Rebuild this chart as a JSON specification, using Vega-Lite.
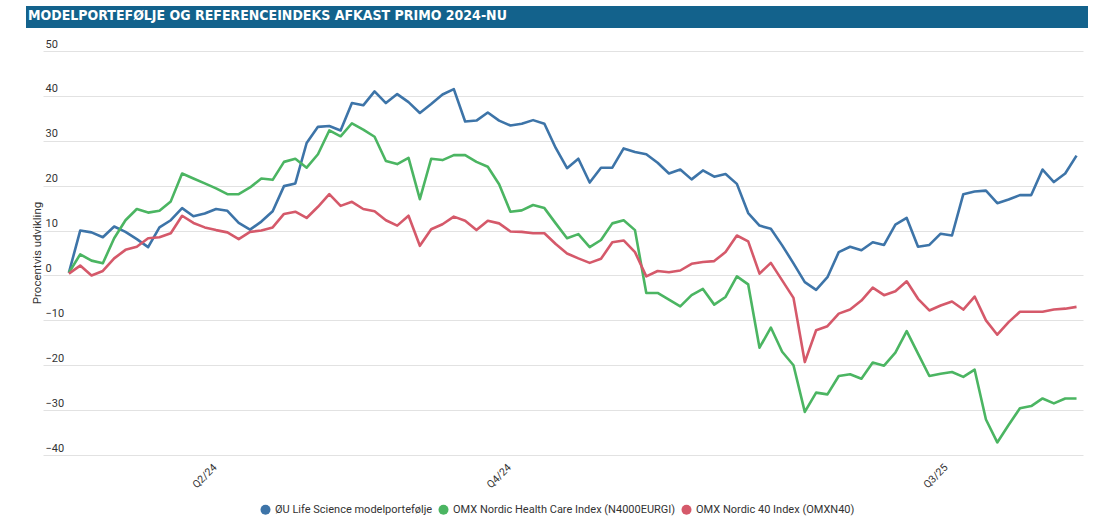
{
  "$schema": "https://vega.github.io/schema/vega-lite/v6.json",
  "background": "white",
  "padding": {"left": 26, "top": 6, "right": 10, "bottom": 4},
  "spacing": 10,
  "config": {
    "view": {"stroke": null},
    "font": "Roboto",
    "axis": {"labelFont": "Roboto", "titleFont": "Roboto"},
    "legend": {"labelFont": "Roboto", "layout": {"bottom": {"anchor": "middle"}}}
  },
  "vconcat": [
    {
      "width": 1062,
      "height": 22,
      "view": {"fill": "#13628c", "stroke": null},
      "title": {
        "text": "MODELPORTEFØLJE OG REFERENCEINDEKS AFKAST PRIMO 2024-NU",
        "anchor": "start",
        "frame": "group",
        "orient": "top",
        "offset": -17,
        "dx": 2,
        "color": "white",
        "font": "Liberation Sans Narrow, DejaVu Sans Condensed, Roboto, sans-serif",
        "fontSize": 14,
        "fontWeight": "bold"
      },
      "data": {"values": [{"t": ""}]},
      "mark": {"type": "text", "opacity": 0},
      "encoding": {"text": {"field": "t"}}
    },
    {
      "spacing": 0,
      "hconcat": [
        {
          "width": 17,
          "height": 404,
          "data": {"values": [{"label": "Procentvis udvikling"}]},
          "mark": {"type": "text", "angle": 270, "font": "Roboto", "fontSize": 11.5, "color": "#333333", "baseline": "middle", "align": "center", "dy": 3},
          "encoding": {"text": {"field": "label"}}
        },
        {
          "width": 1040,
          "height": 404,
          "data": {"values": [
            {"date": "2024-01-02", "p": 0.6, "h": 0.6, "n": 0.4},
            {"date": "2024-01-09", "p": 10.0, "h": 4.7, "n": 2.2},
            {"date": "2024-01-16", "p": 9.6, "h": 3.3, "n": 0.0},
            {"date": "2024-01-23", "p": 8.5, "h": 2.7, "n": 1.0},
            {"date": "2024-01-30", "p": 10.9, "h": 8.3, "n": 3.8},
            {"date": "2024-02-06", "p": 9.7, "h": 12.3, "n": 5.7},
            {"date": "2024-02-13", "p": 8.1, "h": 14.8, "n": 6.4},
            {"date": "2024-02-20", "p": 6.3, "h": 14.0, "n": 8.3},
            {"date": "2024-02-27", "p": 10.7, "h": 14.4, "n": 8.5},
            {"date": "2024-03-05", "p": 12.3, "h": 16.5, "n": 9.4},
            {"date": "2024-03-12", "p": 15.0, "h": 22.7, "n": 13.3},
            {"date": "2024-03-19", "p": 13.2, "h": 21.6, "n": 11.7},
            {"date": "2024-03-26", "p": 13.8, "h": 20.5, "n": 10.7},
            {"date": "2024-04-02", "p": 14.8, "h": 19.4, "n": 10.1},
            {"date": "2024-04-09", "p": 14.4, "h": 18.1, "n": 9.6},
            {"date": "2024-04-16", "p": 11.7, "h": 18.1, "n": 8.1},
            {"date": "2024-04-23", "p": 10.2, "h": 19.6, "n": 9.7},
            {"date": "2024-04-30", "p": 12.0, "h": 21.6, "n": 10.0},
            {"date": "2024-05-07", "p": 14.3, "h": 21.3, "n": 10.7},
            {"date": "2024-05-14", "p": 19.9, "h": 25.3, "n": 13.7},
            {"date": "2024-05-21", "p": 20.5, "h": 26.0, "n": 14.2},
            {"date": "2024-05-28", "p": 29.5, "h": 24.0, "n": 12.8},
            {"date": "2024-06-04", "p": 33.1, "h": 27.0, "n": 15.3},
            {"date": "2024-06-11", "p": 33.3, "h": 32.3, "n": 18.1},
            {"date": "2024-06-18", "p": 32.3, "h": 31.0, "n": 15.5},
            {"date": "2024-06-25", "p": 38.4, "h": 33.9, "n": 16.4},
            {"date": "2024-07-02", "p": 37.9, "h": 32.5, "n": 14.8},
            {"date": "2024-07-09", "p": 41.0, "h": 30.9, "n": 14.3},
            {"date": "2024-07-16", "p": 38.4, "h": 25.5, "n": 12.3},
            {"date": "2024-07-23", "p": 40.4, "h": 24.8, "n": 11.1},
            {"date": "2024-07-30", "p": 38.6, "h": 26.2, "n": 13.3},
            {"date": "2024-08-06", "p": 36.2, "h": 17.0, "n": 6.6},
            {"date": "2024-08-13", "p": 38.2, "h": 26.0, "n": 10.3},
            {"date": "2024-08-20", "p": 40.3, "h": 25.7, "n": 11.4},
            {"date": "2024-08-27", "p": 41.5, "h": 26.8, "n": 13.1},
            {"date": "2024-09-03", "p": 34.3, "h": 26.8, "n": 12.2},
            {"date": "2024-09-10", "p": 34.5, "h": 25.3, "n": 10.1},
            {"date": "2024-09-17", "p": 36.3, "h": 24.2, "n": 12.2},
            {"date": "2024-09-24", "p": 34.5, "h": 20.3, "n": 11.6},
            {"date": "2024-10-01", "p": 33.4, "h": 14.2, "n": 9.8},
            {"date": "2024-10-08", "p": 33.8, "h": 14.5, "n": 9.7},
            {"date": "2024-10-15", "p": 34.6, "h": 15.7, "n": 9.4},
            {"date": "2024-10-22", "p": 33.8, "h": 15.0, "n": 9.4},
            {"date": "2024-10-29", "p": 28.4, "h": 11.6, "n": 7.0},
            {"date": "2024-11-05", "p": 23.9, "h": 8.3, "n": 4.9},
            {"date": "2024-11-12", "p": 26.0, "h": 9.2, "n": 3.8},
            {"date": "2024-11-19", "p": 20.7, "h": 6.3, "n": 2.8},
            {"date": "2024-11-26", "p": 24.0, "h": 7.9, "n": 3.7},
            {"date": "2024-12-03", "p": 24.0, "h": 11.6, "n": 7.4},
            {"date": "2024-12-10", "p": 28.3, "h": 12.3, "n": 7.8},
            {"date": "2024-12-17", "p": 27.5, "h": 10.1, "n": 5.2},
            {"date": "2024-12-24", "p": 27.0, "h": -3.9, "n": -0.2},
            {"date": "2024-12-31", "p": 25.1, "h": -3.9, "n": 1.0},
            {"date": "2025-01-07", "p": 22.7, "h": -5.4, "n": 0.7},
            {"date": "2025-01-14", "p": 23.6, "h": -6.9, "n": 1.1},
            {"date": "2025-01-21", "p": 21.4, "h": -4.4, "n": 2.6},
            {"date": "2025-01-28", "p": 23.4, "h": -3.0, "n": 3.0},
            {"date": "2025-02-04", "p": 22.0, "h": -6.5, "n": 3.2},
            {"date": "2025-02-11", "p": 22.6, "h": -4.8, "n": 5.2},
            {"date": "2025-02-18", "p": 20.4, "h": -0.2, "n": 8.9},
            {"date": "2025-02-25", "p": 13.9, "h": -2.0, "n": 7.6},
            {"date": "2025-03-04", "p": 11.1, "h": -16.1, "n": 0.4},
            {"date": "2025-03-11", "p": 10.4, "h": -11.6, "n": 2.8},
            {"date": "2025-03-18", "p": 6.7, "h": -17.0, "n": -1.1},
            {"date": "2025-03-25", "p": 2.7, "h": -20.0, "n": -5.0},
            {"date": "2025-04-01", "p": -1.5, "h": -30.4, "n": -19.3},
            {"date": "2025-04-08", "p": -3.2, "h": -26.1, "n": -12.2},
            {"date": "2025-04-15", "p": -0.4, "h": -26.5, "n": -11.3},
            {"date": "2025-04-22", "p": 5.2, "h": -22.4, "n": -8.5},
            {"date": "2025-04-29", "p": 6.4, "h": -22.0, "n": -7.6},
            {"date": "2025-05-06", "p": 5.6, "h": -23.0, "n": -5.6},
            {"date": "2025-05-13", "p": 7.4, "h": -19.4, "n": -2.7},
            {"date": "2025-05-20", "p": 6.8, "h": -20.1, "n": -4.4},
            {"date": "2025-05-27", "p": 11.3, "h": -17.2, "n": -3.5},
            {"date": "2025-06-03", "p": 12.8, "h": -12.4, "n": -1.3},
            {"date": "2025-06-10", "p": 6.4, "h": -17.4, "n": -5.2},
            {"date": "2025-06-17", "p": 6.8, "h": -22.4, "n": -7.8},
            {"date": "2025-06-24", "p": 9.3, "h": -21.9, "n": -6.7},
            {"date": "2025-07-01", "p": 8.9, "h": -21.5, "n": -5.8},
            {"date": "2025-07-08", "p": 18.1, "h": -22.6, "n": -7.6},
            {"date": "2025-07-15", "p": 18.7, "h": -21.0, "n": -4.7},
            {"date": "2025-07-22", "p": 18.9, "h": -32.1, "n": -10.0},
            {"date": "2025-07-29", "p": 16.1, "h": -37.2, "n": -13.2},
            {"date": "2025-08-05", "p": 16.9, "h": -33.3, "n": -10.4},
            {"date": "2025-08-12", "p": 17.9, "h": -29.6, "n": -8.1},
            {"date": "2025-08-19", "p": 17.9, "h": -29.1, "n": -8.1},
            {"date": "2025-08-26", "p": 23.6, "h": -27.4, "n": -8.1},
            {"date": "2025-09-02", "p": 20.8, "h": -28.5, "n": -7.6},
            {"date": "2025-09-09", "p": 22.7, "h": -27.4, "n": -7.4},
            {"date": "2025-09-16", "p": 26.7, "h": -27.4, "n": -7.0}
          ]},
          "transform": [{"fold": ["p", "h", "n"], "as": ["key", "value"]}],
          "mark": {"type": "line", "strokeWidth": 2.6, "strokeJoin": "round"},
          "encoding": {
            "x": {
              "field": "date",
              "type": "temporal",
              "scale": {"domain": [
                {"year": 2023, "month": 12, "date": 17},
                {"year": 2025, "month": 9, "date": 20}
              ]},
              "axis": {
                "title": null,
                "values": [
                  {"year": 2024, "month": 3, "date": 30},
                  {"year": 2024, "month": 9, "date": 28},
                  {"year": 2025, "month": 6, "date": 25}
                ],
                "labelExpr": "year(datum.value) == 2025 ? 'Q3/25' : month(datum.value) < 5 ? 'Q2/24' : 'Q4/24'",
                "labelAngle": -45,
                "labelAlign": "right",
                "labelBaseline": "top",
                "labelPadding": 7,
                "tickSize": 0,
                "ticks": false,
                "domain": false,
                "grid": false,
                "labelFontSize": 10.5,
                "labelColor": "#333333"
              }
            },
            "y": {
              "field": "value",
              "type": "quantitative",
              "scale": {"domain": [-40, 50], "nice": false, "zero": false},
              "axis": {
                "title": null,
                "values": [-40, -30, -20, -10, 0, 10, 20, 30, 40, 50],
                "grid": true,
                "gridColor": "#e2e2e2",
                "gridWidth": 1,
                "domain": false,
                "ticks": false,
                "tickSize": 0,
                "labelAlign": "left",
                "labelBaseline": "bottom",
                "labelPadding": -2,
                "labelOffset": -2,
                "labelFontSize": 11,
                "labelColor": "#333333"
              }
            },
            "color": {
              "field": "key",
              "type": "nominal",
              "sort": null,
              "scale": {"domain": ["p", "h", "n"], "range": ["#3d74a8", "#4bb562", "#d5596a"]},
              "legend": {
                "title": null,
                "orient": "bottom",
                "direction": "horizontal",
                "symbolType": "circle",
                "symbolSize": 100,
                "columnPadding": 5,
                "labelLimit": 400,
                "labelFontSize": 11,
                "labelColor": "#333333",
                "offset": 13,
                "labelExpr": "datum.label == 'p' ? 'ØU Life Science modelportefølje' : datum.label == 'h' ? 'OMX Nordic Health Care Index (N4000EURGI)' : 'OMX Nordic 40 Index (OMXN40)'",
                "encode": {"symbols": {"update": {"fill": {"scale": "color", "field": "value"}, "strokeWidth": {"value": 0}}}}
              }
            }
          }
        }
      ]
    }
  ]
}
